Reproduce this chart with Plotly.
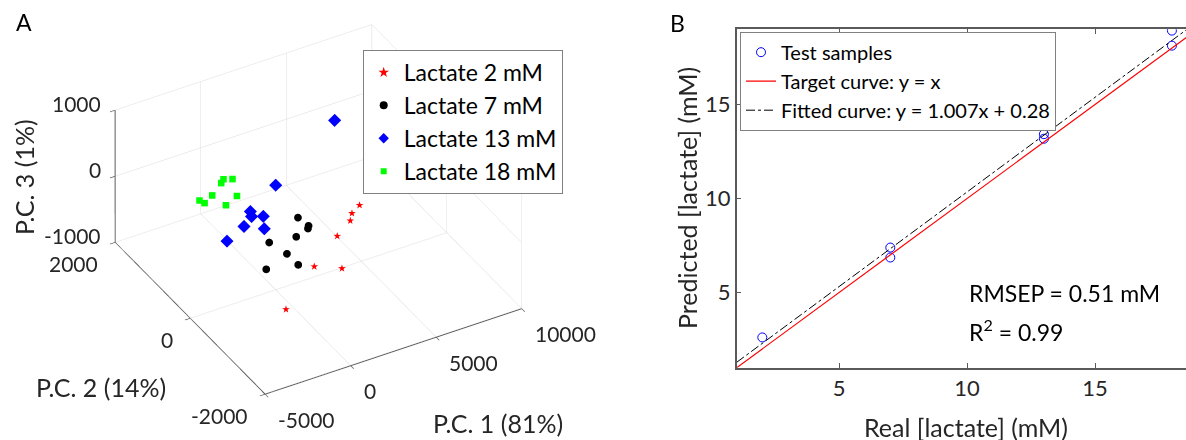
import plotly.graph_objects as go

# ---------------- Panel A data: PCA scores ----------------
pc1_2mM = [4773, 4089, 3836, 2596, 406, 1686, -2410]
pc2_2mM = [-55, -164, -235, -454, -840, -994, -1370]
pc3_2mM = [-300, -300, -350, -350, -400, -450, -500]

pc1_7mM = [1529, 1784, 1495, 910, -671, -240, -76, -1678]
pc2_7mM = [107, -59, -175, -130, -131, -406, -633, -511]
pc3_7mM = [-100, -150, -100, -200, -150, -200, -250, -250]

pc1_13mM = [1092, -589, -606, -231, -1227, -579, -2472, 6212]
pc2_13mM = [505, 413, 371, 230, 290, 44, 175, 1268]
pc3_13mM = [200, 0, -50, 0, -100, -50, -150, 300]

pc1_18mM = [-2624, -2375, -1991, -1345, -935, -819, -785, -1384]
pc2_18mM = [836, 816, 786, 841, 967, 780, 678, 698]
pc3_18mM = [100, 50, 150, 250, 200, 300, 100, 0]

pc1_ticks = [-5000, 0, 5000, 10000]
pc2_ticks = [-2000, 0, 2000]
pc3_ticks = [-1000, 0, 1000]
pc1_labels = ["-5000", "0", "5000", "10000"]
pc2_labels = ["-2000", "0", "2000"]
pc3_labels = ["-1000", "0", "1000"]
pc1_lim = [-5000, 10000]
pc2_lim = [-2000, 2000]
pc3_lim = [-1000, 1000]

# ---------------- Panel B data: prediction ----------------
real_conc = [2, 7, 7, 13, 13, 18, 18]
pred_conc = [2.61, 7.39, 6.86, 13.42, 13.18, 18.93, 18.13]
line_x = [1, 19]
target_y = [1, 19]
fitted_y = [1.287, 19.413]
b_ticks = [5, 10, 15]

FONT = "Lato"
TXT = "#262626"
AX = "#5a5a5a"
GRID = "#dcdcdc"

fig = go.Figure()

# dark axis edges of the 3D box (along the labelled edges, from the axis limits)
for ex, ey, ez in [([pc1_lim[0]] * 2, [pc2_lim[1]] * 2, pc3_lim),
                   ([pc1_lim[0]] * 2, pc2_lim, [pc3_lim[0]] * 2),
                   (pc1_lim, [pc2_lim[0]] * 2, [pc3_lim[0]] * 2)]:
    fig.add_trace(go.Scatter3d(x=ex, y=ey, z=ez, mode="lines", line=dict(color="#606060", width=2),
                               showlegend=False, hoverinfo="skip", scene="scene"))

# 3D scatter traces
fig.add_trace(go.Scatter3d(x=pc1_2mM, y=pc2_2mM, z=pc3_2mM, mode="text", text=["★"] * len(pc1_2mM),
                           textfont=dict(color="#ff0000", size=10, family="DejaVu Sans"),
                           showlegend=False, scene="scene"))
fig.add_trace(go.Scatter3d(x=pc1_7mM, y=pc2_7mM, z=pc3_7mM, mode="markers",
                           marker=dict(symbol="circle", size=4.5, color="#000000"),
                           showlegend=False, scene="scene"))
fig.add_trace(go.Scatter3d(x=pc1_13mM, y=pc2_13mM, z=pc3_13mM, mode="markers",
                           marker=dict(symbol="diamond", size=4.3, color="#0000ff"),
                           showlegend=False, scene="scene"))
fig.add_trace(go.Scatter3d(x=pc1_18mM, y=pc2_18mM, z=pc3_18mM, mode="markers",
                           marker=dict(symbol="square", size=3.4, color="#00ff00"),
                           showlegend=False, scene="scene"))

# legend entries for panel A
for name, sym, col, sz in [("Lactate 2 mM", "star", "#ff0000", 8),
                           ("Lactate 7 mM", "circle", "#000000", 8),
                           ("Lactate 13 mM", "diamond", "#0000ff", 8),
                           ("Lactate 18 mM", "square", "#00ff00", 6)]:
    fig.add_trace(go.Scatter(x=[None], y=[None], mode="markers", name=name,
                             marker=dict(symbol=sym, color=col, size=sz),
                             legend="legend", xaxis="x", yaxis="y"))

# Panel B traces
fig.add_trace(go.Scatter(x=real_conc, y=pred_conc, mode="markers", name="Test samples",
                         marker=dict(symbol="circle-open", size=9, color="#0000ff", line=dict(width=1)),
                         legend="legend2"))
fig.add_trace(go.Scatter(x=line_x, y=target_y, mode="lines", name="Target curve: y = x",
                         line=dict(color="#ff0000", width=1.2), legend="legend2"))
fig.add_trace(go.Scatter(x=line_x, y=fitted_y, mode="lines", name="Fitted curve: y = 1.007x + 0.28",
                         line=dict(color="#000000", width=1, dash="dashdot"), legend="legend2"))

ax3 = dict(showbackground=False, gridcolor=GRID, gridwidth=1, showline=True, linecolor=AX,
           linewidth=1.5, ticks="outside", tickcolor=AX, ticklen=6, tickwidth=1.5,
           zeroline=False, showspikes=False, showticklabels=False, title=dict(text=""))

W, H = 1186, 440
def px(x):
    return x / W
def py(y):
    return 1 - y / H

def ann(text, x, y, size=22, angle=0, xa="center", color=TXT):
    return dict(text=text, x=px(x), y=py(y), xref="paper", yref="paper", showarrow=False,
                xanchor=xa, yanchor="middle", textangle=angle,
                font=dict(family=FONT, size=size, color=color))

# 3D tick labels (placed at the tick positions on the labelled box edges)
tick_font = dict(family=FONT, size=21, color=TXT)
scene_anns = []
for v, t in zip(pc3_ticks, pc3_labels):
    scene_anns.append(dict(x=pc1_lim[0], y=pc2_lim[1], z=v, text=t, showarrow=False,
                           xanchor="right", yanchor="middle", xshift=-12, yshift=7, font=tick_font))
for v, t in zip(pc2_ticks, pc2_labels):
    scene_anns.append(dict(x=pc1_lim[0], y=v, z=pc3_lim[0], text=t, showarrow=False,
                           xanchor="right", yanchor="middle", xshift=-15, yshift=-21, font=tick_font))
for v, t in zip(pc1_ticks, pc1_labels):
    scene_anns.append(dict(x=v, y=pc2_lim[0], z=pc3_lim[0], text=t, showarrow=False,
                           xanchor="left", yanchor="middle", xshift=11, yshift=-25, font=tick_font))

fig.update_layout(
    width=W, height=H, margin=dict(l=0, r=0, t=0, b=0),
    paper_bgcolor="white", plot_bgcolor="white", template="none",
    font=dict(family=FONT, size=21, color=TXT),
    scene=dict(
        domain=dict(x=[0, 0.537], y=[0, 1]),
        xaxis=dict(ax3, range=pc1_lim, tickvals=pc1_ticks),
        yaxis=dict(ax3, range=pc2_lim, tickvals=pc2_ticks),
        zaxis=dict(ax3, range=pc3_lim, tickvals=pc3_ticks),
        aspectmode="manual", aspectratio=dict(x=1.345, y=1.37, z=0.738),
        camera=dict(eye=dict(x=-0.621, y=-1.0826, z=0.832), up=dict(x=0, y=0, z=1),
                    center=dict(x=0, y=0, z=-0.059), projection=dict(type="orthographic")),
        bgcolor="rgba(0,0,0,0)",
        annotations=scene_anns,
    ),
    xaxis=dict(domain=[px(736.7), 1.0], range=[1, 18.55], tickvals=b_ticks,
               showline=True, linecolor=AX, linewidth=1.5, mirror="ticks",
               ticks="inside", ticklen=5, tickcolor=AX, showgrid=False, zeroline=False,
               tickfont=dict(family=FONT, size=22, color=TXT)),
    yaxis=dict(domain=[py(367.7), py(29.3)], range=[1, 19], tickvals=b_ticks,
               showline=True, linecolor=AX, linewidth=1.5, mirror=False,
               ticks="inside", ticklen=5, tickcolor=AX, showgrid=False, zeroline=False,
               tickfont=dict(family=FONT, size=22, color=TXT)),
    legend=dict(x=px(362.7), y=py(50), xanchor="left", yanchor="top",
                bgcolor="white", bordercolor="#808080", borderwidth=1,
                font=dict(family=FONT, size=23, color="#000000"), tracegroupgap=0),
    legend2=dict(x=px(740), y=py(31.7), xanchor="left", yanchor="top",
                 bgcolor="white", bordercolor="#808080", borderwidth=1,
                 font=dict(family=FONT, size=20, color="#000000"), tracegroupgap=0),
    annotations=[
        ann("A", 24, 22, 23, color="#000000"),
        ann("B", 677, 23, 23, color="#000000"),
        ann("P.C. 3 (1%)", 24, 177, 25, angle=-90),
        ann("P.C. 2 (14%)", 101, 387, 25),
        ann("P.C. 1 (81%)", 498, 423, 25),
        ann("Predicted [lactate] (mM)", 687, 198, 25, angle=-90),
        ann("Real [lactate] (mM)", 966, 427, 25),
        ann("RMSEP = 0.51 mM", 967, 293, 23, xa="left", color="#000000"),
        ann("R<sup>2</sup> = 0.99", 967, 330, 23, xa="left", color="#000000"),
    ],
)

fig.write_html("out.html")
